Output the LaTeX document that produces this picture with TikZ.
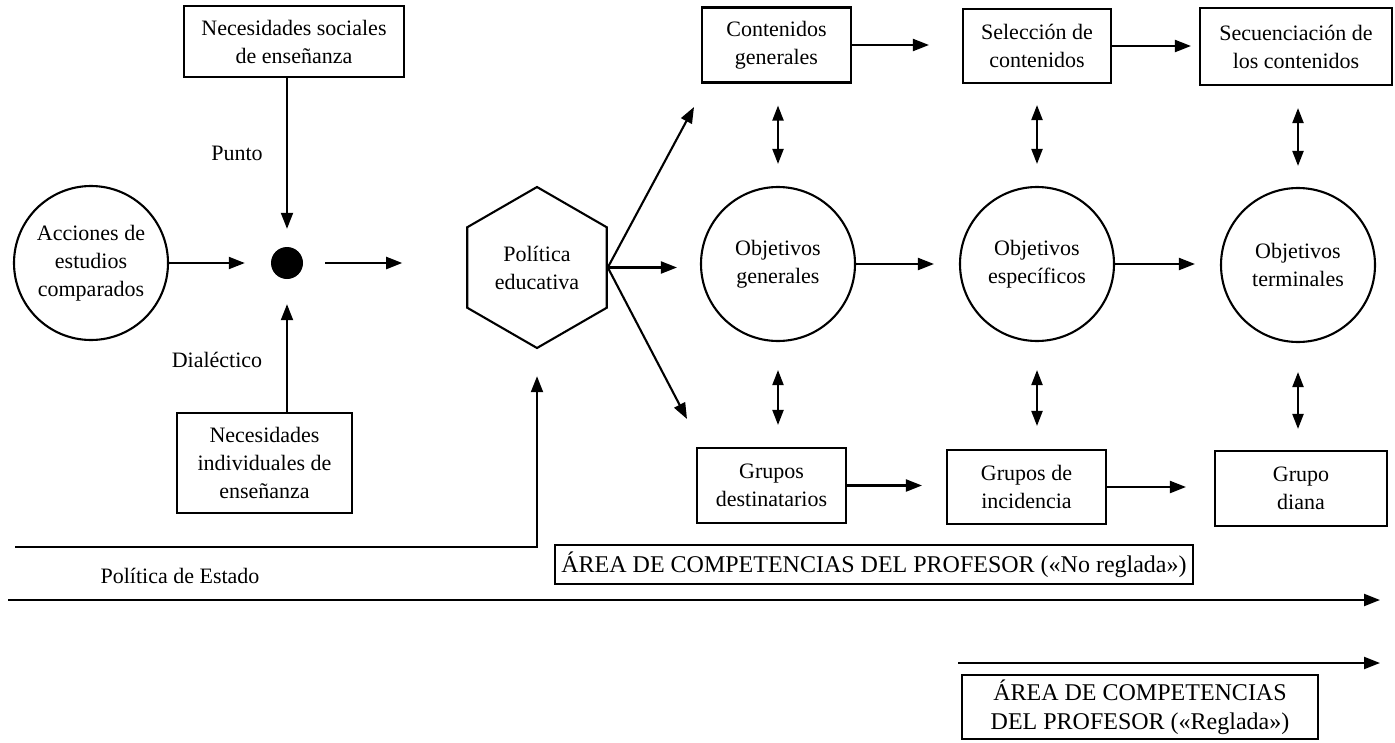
\documentclass[tikz,border=0pt]{standalone}
\usepackage{fontspec}
\setmainfont{Liberation Serif}
\usetikzlibrary{arrows.meta,shapes.geometric}
\begin{document}
\begin{tikzpicture}[x=1pt,y=-1pt,
  every node/.style={font=\fontsize{22}{28}\selectfont},
  box/.style={draw, line width=2.1pt, align=center, inner sep=0pt},
  circ/.style={draw, circle, line width=2.1pt, minimum size=154pt, align=center, inner sep=0pt},
  arr/.style={line width=2.1pt, -{Triangle[length=16pt,width=12pt]}},
  dbl/.style={line width=2.1pt, {Triangle[length=15pt,width=11pt]}-{Triangle[length=15pt,width=11pt]}},
  lbl/.style={inner sep=0pt},
  area/.style={font=\fontsize{24}{29}\selectfont}
]
\useasboundingbox (0,0) rectangle (1395,742);

% boxes
\node[box, minimum width=220pt, minimum height=71pt] (soc) at (294,41.5) {Necesidades sociales\\de enseñanza};
\node[box, minimum width=175pt, minimum height=100pt] (ind) at (264.5,463) {Necesidades\\individuales de\\enseñanza};
\node[box, minimum width=149pt, minimum height=75pt] (cg) at (776.5,45) {Contenidos\\generales};
\node[box, minimum width=148pt, minimum height=74pt] (sel) at (1037,46) {Selección de\\contenidos};
\node[box, minimum width=192pt, minimum height=77pt] (sec) at (1296,46.5) {Secuenciación de\\los contenidos};
\node[box, minimum width=149pt, minimum height=75pt] (gd) at (771.5,485.5) {Grupos\\destinatarios};
\node[box, minimum width=159pt, minimum height=74pt] (gi) at (1026.5,487) {Grupos de\\incidencia};
\node[box, minimum width=172pt, minimum height=75pt] (gdi) at (1301,488.5) {Grupo\\diana};
\node[box, area, minimum width=638pt, minimum height=39pt] (noreg) at (874,564.5) {ÁREA DE COMPETENCIAS DEL PROFESOR («No reglada»)};
\node[box, area, minimum width=356pt, minimum height=64pt] (reg) at (1140,707) {ÁREA DE COMPETENCIAS\\DEL PROFESOR («Reglada»)};

% circles
\node[circ] (acc) at (91,263) {Acciones de\\estudios\\comparados};
\node[circ] (og) at (778,264) {Objetivos\\generales};
\node[circ] (oe) at (1037,264) {Objetivos\\específicos};
\node[circ] (ot) at (1298,265) {Objetivos\\terminales};
\node[circle, fill, minimum size=32pt, inner sep=0pt] (dot) at (287,263) {};
\node[draw, regular polygon, regular polygon sides=6, shape border rotate=30,
      minimum size=161pt, line width=2.1pt, inner sep=0pt, align=center] (hex) at (537,267.5) {Política\\educativa};

% labels
\node[lbl] (punto) at (237,153) {Punto};
\node[lbl] (dial) at (217,360) {Dialéctico};
\node[lbl] (pest) at (180,576) {Política de Estado};

% free ends
\coordinate (t1) at (694,107);
\coordinate (t2) at (687,419);
\coordinate (pe) at (15,547);
\coordinate (l1) at (8,600);
\coordinate (l2) at (1380,600);
\coordinate (r1) at (958,663);
\coordinate (r2) at (1380,663);

% connectors left
\draw[arr, shorten >=26pt] (acc.east) -- (acc.east -| dot.west);
\draw[arr, shorten <=22pt, shorten >=64pt] (dot.east) -- (dot.east -| hex.west);
\draw[arr, shorten >=18pt] (soc.south -| dot) -- (dot.north);
\draw[arr, shorten >=25pt] (ind.north -| dot) -- (dot.south);

% from hexagon
\draw[arr] (hex.east) -- (t1);
\draw[arr, shorten >=23pt] (hex.east) -- (hex.east -| og.west);
\draw[arr] (hex.east) -- (t2);

% top row
\draw[arr, shorten >=33pt] (cg.east) -- (cg.east -| sel.west);
\draw[arr, shorten >=8pt] (sel.east) -- (sel.east -| sec.west);
% middle row
\draw[arr, shorten >=25pt] (og.east) -- (og.east -| oe.west);
\draw[arr, shorten >=25pt] (oe.east) -- (oe.east -| ot.west);
% bottom row
\draw[arr, shorten >=24pt] (gd.east) -- (gd.east -| gi.west);
\draw[arr, shorten >=28pt] (gi.east) -- (gi.east -| gdi.west);

% vertical double arrows
\draw[dbl, shorten <=22pt, shorten >=22pt] (cg.south -| og) -- (og.north);
\draw[dbl, shorten <=21pt, shorten >=22pt] (sel.south -| oe) -- (oe.north);
\draw[dbl, shorten <=22pt, shorten >=21pt] (sec.south -| ot) -- (ot.north);
\draw[dbl, shorten <=28pt, shorten >=22pt] (og.south) -- (og.south |- gd.north);
\draw[dbl, shorten <=28pt, shorten >=23pt] (oe.south) -- (oe.south |- gi.north);
\draw[dbl, shorten <=29pt, shorten >=21pt] (ot.south) -- (ot.south |- gdi.north);

% policy lines
\draw[arr, shorten >=27pt] (pe) -| (hex.south);
\draw[arr] (l1) -- (l2);
\draw[arr] (r1) -- (r2);
\end{tikzpicture}
\end{document}
